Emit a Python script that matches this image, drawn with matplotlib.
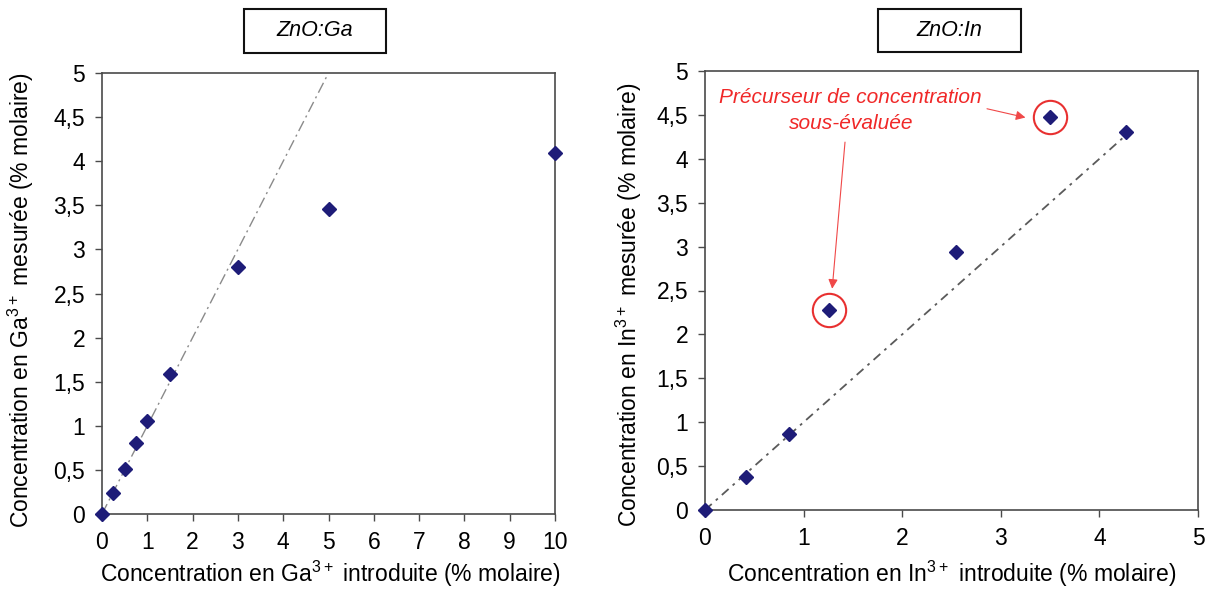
import matplotlib
matplotlib.use("Agg")
import matplotlib.pyplot as plt
from matplotlib.patches import Rectangle
from matplotlib.ticker import FuncFormatter

plt.rcParams['font.family'] = ['Liberation Sans', 'DejaVu Sans']

# ---- data ----
ga_introduced = [0, 0.25, 0.5, 0.75, 1.0, 1.5, 3.0, 5.0, 10.0]
ga_measured = [0, 0.24, 0.51, 0.80, 1.06, 1.59, 2.80, 3.46, 4.09]
ga_line_x = [0, 4.97]

in_introduced = [0, 0.42, 0.85, 1.26, 2.55, 3.50, 4.27]
in_measured = [0, 0.38, 0.87, 2.28, 2.94, 4.48, 4.30]
in_line_x = [0, 4.27]

in_outliers_x = [1.26, 3.50]
in_outliers_y = [2.28, 4.48]

x_ticks_ga = list(range(0, 11))
x_ticks_in = list(range(0, 6))
y_ticks = [0, 0.5, 1, 1.5, 2, 2.5, 3, 3.5, 4, 4.5, 5]

W, H = 1210, 589
fig = plt.figure(figsize=(W / 100, H / 100), dpi=100)


def fax(l, t, r, b):
    return [l / W, 1 - b / H, (r - l) / W, (b - t) / H]


ax1 = fig.add_axes(fax(102, 73, 555, 514))
ax2 = fig.add_axes(fax(705, 71, 1198, 510))

marker_color = '#1E1C78'
comma = FuncFormatter(lambda v, p: ('%g' % v).replace('.', ','))

for ax in (ax1, ax2):
    for s in ax.spines.values():
        s.set_color('#4a4a4a')
        s.set_linewidth(1.2)
    ax.tick_params(direction='out', length=5, width=1.0, color='#4a4a4a',
                   labelsize=16.5, pad=7, top=False, right=False)
    ax.set_ylim(0, 5)
    ax.set_yticks(y_ticks)
    ax.yaxis.set_major_formatter(comma)
    ax.xaxis.set_major_formatter(comma)

lab_fs = 16.5

# Left panel
ax1.set_xlim(0, 10)
ax1.set_xticks(x_ticks_ga)
ax1.plot(ga_line_x, ga_line_x, color='#8a8a8a', lw=1.0, dashes=(8, 3, 1.5, 3), zorder=2)
ax1.plot(ga_introduced, ga_measured, linestyle='none', marker='D', ms=7.5,
         color=marker_color, mec=marker_color, zorder=3, clip_on=False)
ax1.set_xlabel('Concentration en Ga$^{\\mathregular{3+}}$ introduite (% molaire)', fontsize=lab_fs)
ax1.set_ylabel('Concentration en Ga$^{\\mathregular{3+}}$ mesurée (% molaire)', fontsize=lab_fs)
ax1.xaxis.set_label_coords(0.505, -0.135)
ax1.xaxis.label.set_va('center')
ax1.yaxis.set_label_coords(-0.179, 0.485)
ax1.yaxis.label.set_va('center')

# Right panel
ax2.set_xlim(0, 5)
ax2.set_xticks(x_ticks_in)
ax2.plot(in_line_x, in_line_x, color='#5a5a5a', lw=1.3, dashes=(5, 3, 1.5, 3), zorder=2)
ax2.plot(in_introduced, in_measured, linestyle='none', marker='D', ms=7.5,
         color=marker_color, mec=marker_color, zorder=3, clip_on=False)
ax2.plot(in_outliers_x, in_outliers_y, linestyle='none', marker='o', ms=24,
         mfc='none', mec='#E83030', mew=1.5, zorder=4)
ax2.set_xlabel('Concentration en In$^{\\mathregular{3+}}$ introduite (% molaire)', fontsize=lab_fs)
ax2.set_ylabel('Concentration en In$^{\\mathregular{3+}}$ mesurée (% molaire)', fontsize=lab_fs)
ax2.xaxis.set_label_coords(0.5, -0.145)
ax2.xaxis.label.set_va('center')
ax2.yaxis.set_label_coords(-0.154, 0.467)
ax2.yaxis.label.set_va('center')

red = '#F02828'
ax2.text(1.47, 4.70, 'Précurseur de concentration', color=red, fontsize=15,
         style='italic', ha='center', va='center')
ax2.text(1.48, 4.40, 'sous-évaluée', color=red, fontsize=15,
         style='italic', ha='center', va='center')
arrow_kw = dict(arrowstyle='-|>', color='#F04848', lw=0.8, mutation_scale=14,
                shrinkA=0, shrinkB=0)
ax2.annotate('', xy=(3.25, 4.47), xytext=(2.86, 4.57), arrowprops=arrow_kw)
ax2.annotate('', xy=(1.29, 2.52), xytext=(1.42, 4.19), arrowprops=arrow_kw)

# Title boxes
for (l, t, r, b, label) in [(244, 9, 386, 53, 'ZnO:Ga'), (878, 9, 1021, 52, 'ZnO:In')]:
    fig.patches.append(Rectangle((l / W, 1 - b / H), (r - l) / W, (b - t) / H,
                                 transform=fig.transFigure, fill=False,
                                 edgecolor='#111111', lw=1.5))
    fig.text((l + r) / 2 / W, 1 - (t + b) / 2 / H, label, fontsize=15.5,
             style='italic', ha='center', va='center')

fig.savefig('out.png', dpi=100)
